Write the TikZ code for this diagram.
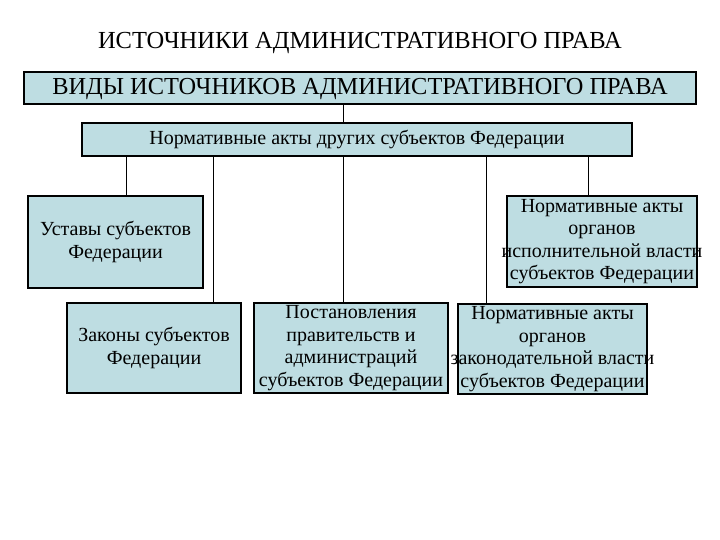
\documentclass[tikz,border=0pt]{standalone}
\usepackage{fontspec}
\setmainfont{Liberation Serif}
\begin{document}
\begin{tikzpicture}[x=1pt,y=-1pt,
  bx/.style={draw=black,fill=boxc,line width=1.2pt},
  txt/.style={align=center,inner sep=0pt,font=\fontsize{20}{22.5}\selectfont},
  ln/.style={line width=1pt}]
\definecolor{boxc}{HTML}{BEDDE2}
\useasboundingbox (0,0) rectangle (720,540);
\node[font=\fontsize{24.5}{26}\selectfont] (title) at (360,43) {ИСТОЧНИКИ АДМИНИСТРАТИВНОГО ПРАВА};
\draw[bx] (24,72) rectangle (696,104);
\node[font=\fontsize{24.4}{26}\selectfont] (b1) at (360,89) {ВИДЫ ИСТОЧНИКОВ АДМИНИСТРАТИВНОГО ПРАВА};
\draw[bx] (82,123) rectangle (632,156);
\node[txt] (b2) at (357,140) {Нормативные акты других субъектов Федерации};
\draw[bx] (28,196) rectangle (203,288);
\node[txt] (u) at (115.5,242) {Уставы субъектов\\Федерации};
\draw[bx] (507,196) rectangle (697,287);
\node[txt] (ur) at (602,241.5) {Нормативные акты\\органов\\исполнительной власти\\субъектов Федерации};
\draw[bx] (67,303) rectangle (241,393);
\node[txt] (z) at (154,348) {Законы субъектов\\Федерации};
\draw[bx] (254,303) rectangle (448,393);
\node[txt] (p) at (351,348) {Постановления\\правительств и\\администраций\\субъектов Федерации};
\draw[bx] (458,304) rectangle (647,394);
\node[txt] (lr) at (552.5,349) {Нормативные акты\\органов\\законодательной власти\\субъектов Федерации};
\coordinate (c0) at (343,104); \coordinate (c1) at (343,123);
\draw[ln] (c0) -- (c1);
\foreach \x/\y in {126/196,213/303,343/303,486/304,588/196}
  \draw[ln] (\x,156) -- (\x,\y);
\end{tikzpicture}
\end{document}
